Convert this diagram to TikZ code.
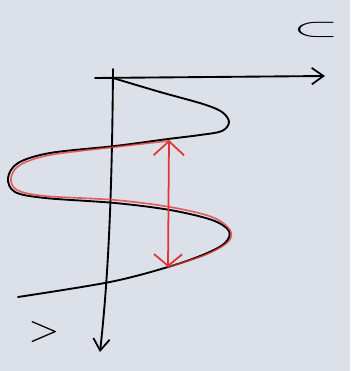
\documentclass[tikz,border=0pt]{standalone}
\usepackage{amsmath}
\usepackage{xcolor}
\usetikzlibrary{arrows.meta}

\definecolor{paper}{RGB}{220,224,232}
\definecolor{pencilred}{RGB}{228,52,52}

\begin{document}
\begin{tikzpicture}[
    x=0.03cm, y=-0.03cm,
    axis/.style={draw, line width=1.6pt, line cap=round},
    wave/.style={line width=1.6pt, line cap=round},
    redwave/.style={draw=pencilred, line width=1.4pt, line cap=round, opacity=0.75},
    lbl/.style={inner sep=0pt},
    >={Straight Barb[length=10pt,width=14pt,line width=1.5pt]}
]

% paper
\fill[paper] (0,0) rectangle (350,371);
\useasboundingbox (0,0) rectangle (350,371);

% axes
\coordinate (uL) at (95,78);
\coordinate (uR) at (325,76);
\coordinate (vT) at (113,69);
\coordinate (vB) at (100,352);
\draw[axis,->] (uL) -- (uR);
\draw[axis,->] (vT) .. controls (112,200) and (108,280) .. (vB);

\node[lbl, xscale=2.9, yscale=1.3] (u) at (316,30) {\LARGE $\subset$};
\node[lbl, xscale=1.4, yscale=1.3] (v) at (44,332) {\Huge $>$};

% the curve
\draw[wave] plot[smooth, tension=0.55] coordinates {
    (113,78) (160,92) (203,104) (222,112) (229,122) (222,131)
    (200,135) (168,139) (115,146) (50,153) (18,163) (8,178) (15,192)
    (45,198) (115,203) (170,210) (212,220) (229,231) (225,243)
    (205,254) (168,267) (110,282) (18,297)};

% red part
\draw[redwave] plot[smooth, tension=0.55] coordinates {
    (168,141) (115,147) (50,155) (20,165) (11,178) (17,190)
    (45,196) (115,200) (170,207) (212,217) (230,230) (228,242)
    (205,255) (168,267)};

% double arrow
\coordinate (aT) at (169,140);
\coordinate (aB) at (168,267);
\draw[draw=pencilred, line width=1.5pt,
    {Straight Barb[length=12pt,width=26pt,line width=1.5pt]}-{Straight Barb[length=10pt,width=24pt,line width=1.5pt]}]
    (aT) -- (aB);

\end{tikzpicture}
\end{document}
